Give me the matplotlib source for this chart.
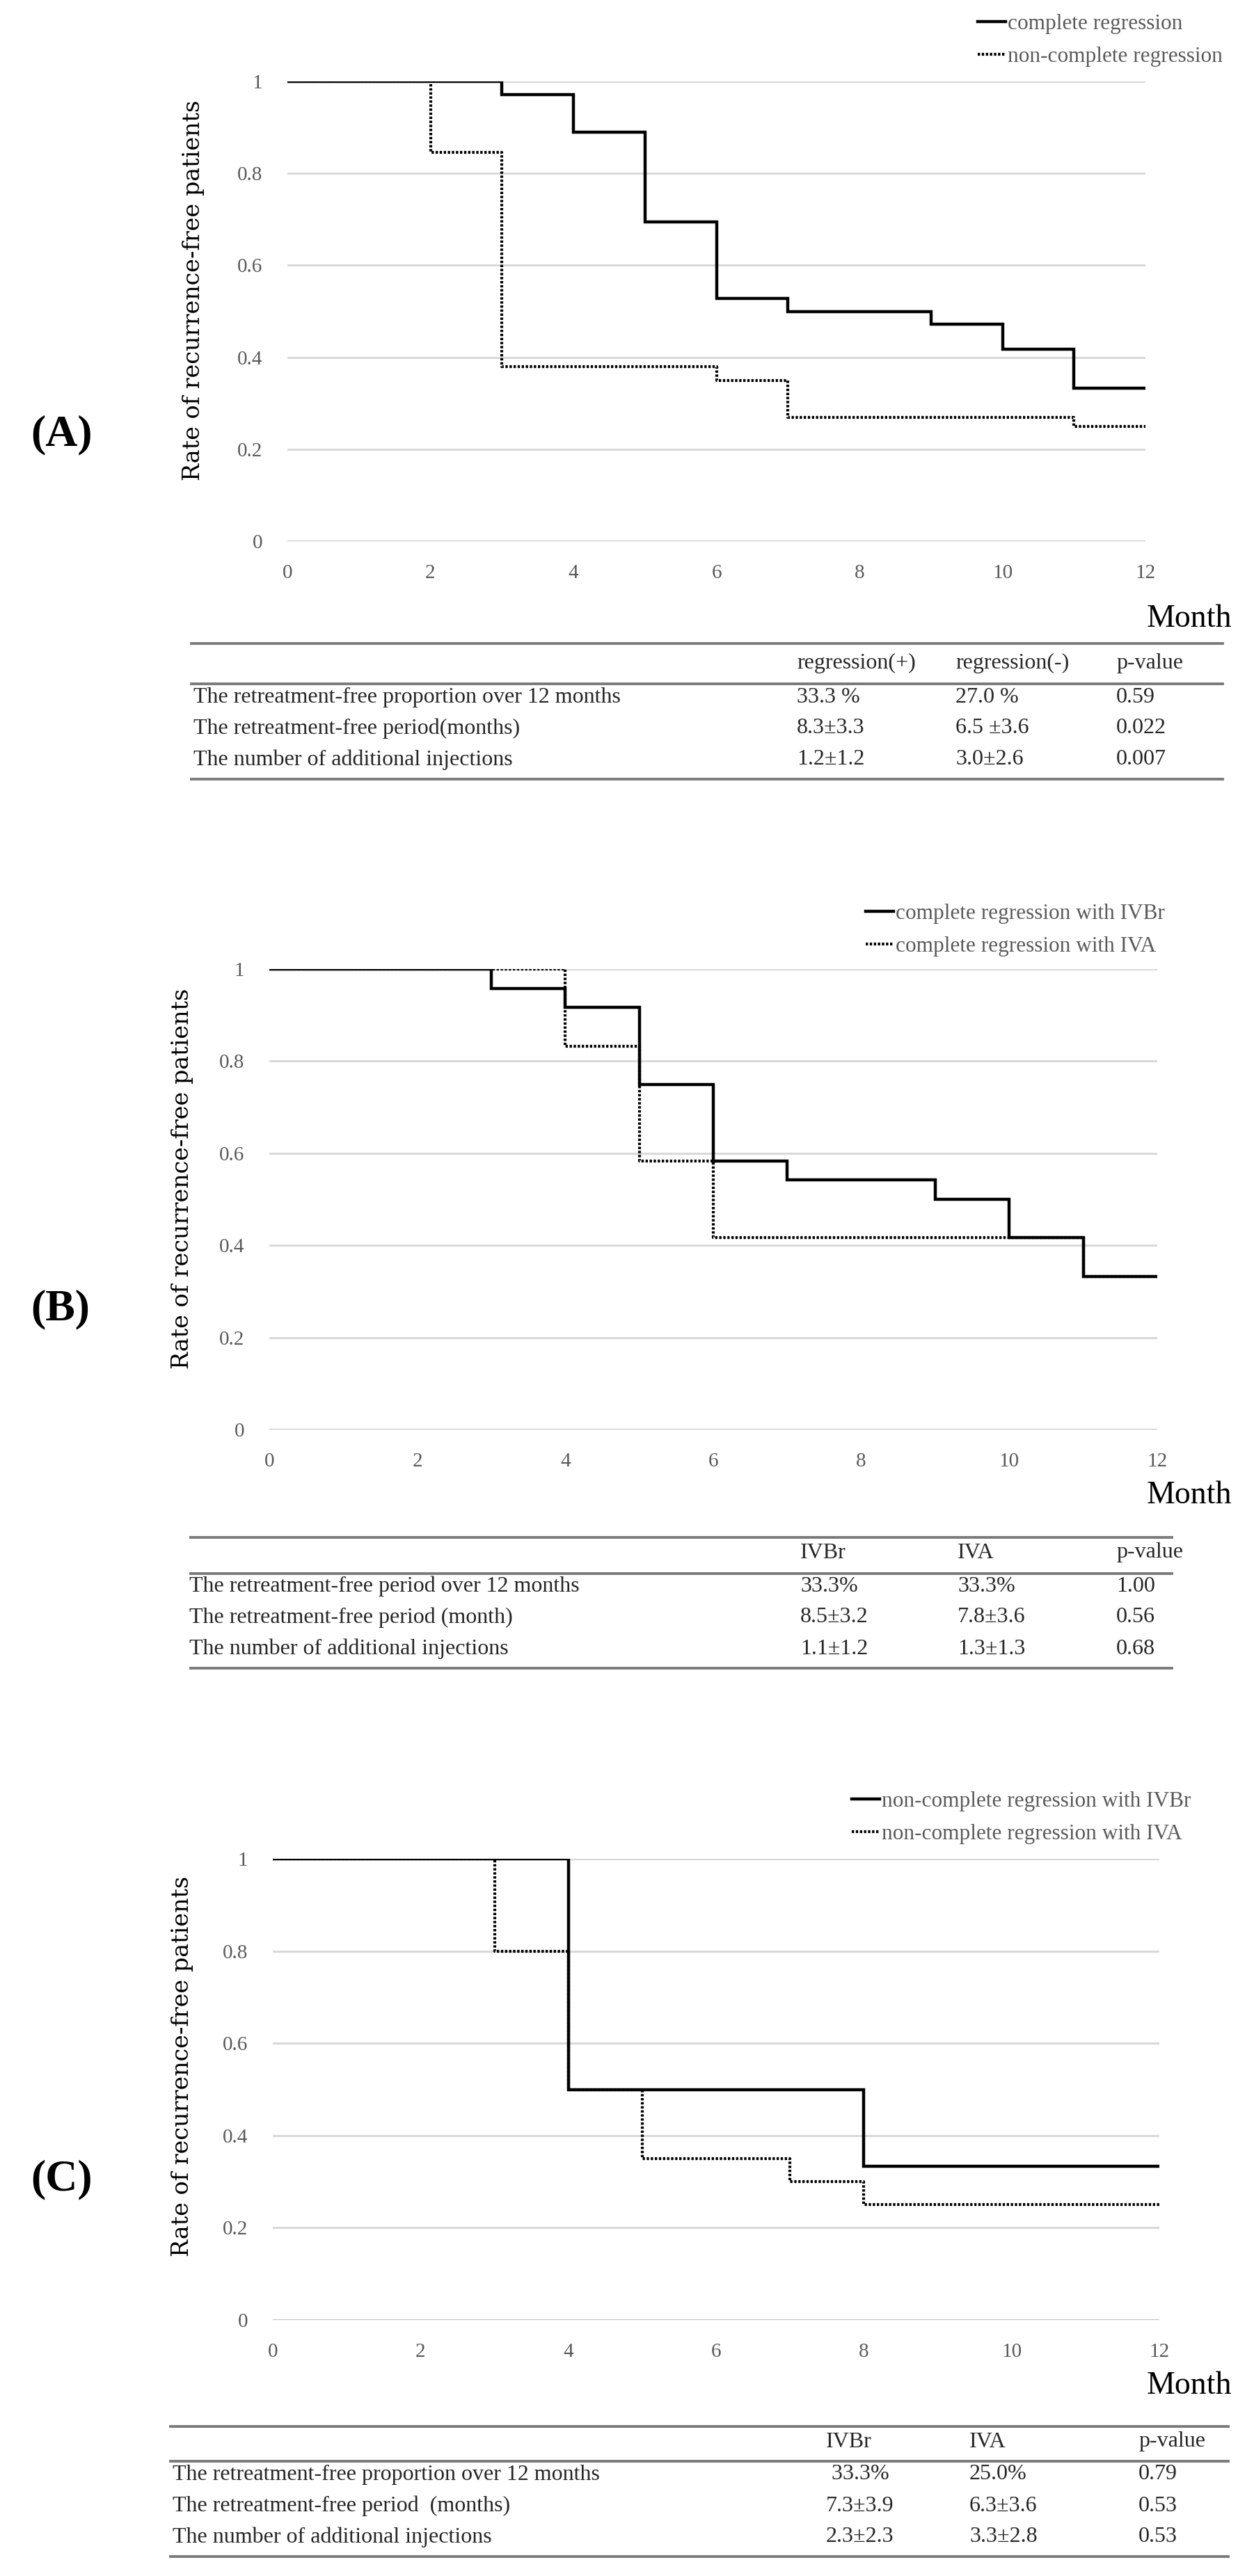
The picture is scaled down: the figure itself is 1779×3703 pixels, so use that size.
import matplotlib
matplotlib.use("Agg")
import matplotlib.pyplot as plt
from matplotlib.lines import Line2D

W, H = 1779, 3703
DPI = 100

SERIF = ["Liberation Serif", "DejaVu Serif"]
GRAY = "#595959"
GRID = "#d9d9d9"

# ---- data -------------------------------------------------------------
months = [0, 2, 4, 6, 8, 10, 12]
y_ticks = [0, 0.2, 0.4, 0.6, 0.8, 1.0]
y_tick_labels = ["0", "0.2", "0.4", "0.6", "0.8", "1"]

# (A) complete vs non-complete regression
a_solid_t = [0, 3, 4, 5, 6, 7, 9, 10, 11, 12]
a_solid_s = [1.0, 0.972, 0.889, 0.694, 0.528, 0.5, 0.472, 0.417, 0.333, 0.333]
a_dot_t = [0, 2, 3, 6, 7, 11, 12]
a_dot_s = [1.0, 0.846, 0.38, 0.35, 0.27, 0.25, 0.25]
a_labels = ["complete regression", "non-complete regression"]

# (B) complete regression, IVBr vs IVA
b_solid_t = [0, 3, 4, 5, 6, 7, 9, 10, 11, 12]
b_solid_s = [1.0, 0.958, 0.917, 0.75, 0.583, 0.542, 0.5, 0.417, 0.333, 0.333]
b_dot_t = [0, 4, 5, 6, 11, 12]
b_dot_s = [1.0, 0.833, 0.583, 0.417, 0.333, 0.333]
b_labels = ["complete regression with IVBr", "complete regression with IVA"]

# (C) non-complete regression, IVBr vs IVA
c_solid_t = [0, 4, 8, 12]
c_solid_s = [1.0, 0.5, 0.333, 0.333]
c_dot_t = [0, 3, 4, 5, 7, 8, 12]
c_dot_s = [1.0, 0.8, 0.5, 0.35, 0.3, 0.25, 0.25]
c_labels = ["non-complete regression with IVBr", "non-complete regression with IVA"]

# tables
a_head = ["", "regression(+)", "regression(-)", "p-value"]
a_rows = [
    ["The retreatment-free proportion over 12 months", "33.3 %", "27.0 %", "0.59"],
    ["The retreatment-free period(months)", "8.3\u00b13.3", "6.5 \u00b13.6", "0.022"],
    ["The number of additional injections", "1.2\u00b11.2", "3.0\u00b12.6", "0.007"],
]
b_head = ["", "IVBr", "IVA", "p-value"]
b_rows = [
    ["The retreatment-free period over 12 months", "33.3%", "33.3%", "1.00"],
    ["The retreatment-free period (month)", "8.5\u00b13.2", "7.8\u00b13.6", "0.56"],
    ["The number of additional injections", "1.1\u00b11.2", "1.3\u00b11.3", "0.68"],
]
c_head = ["", "IVBr", "IVA", "p-value"]
c_rows = [
    ["The retreatment-free proportion over 12 months", " 33.3%", "25.0%", "0.79"],
    ["The retreatment-free period\u2002(months)", "7.3\u00b13.9", "6.3\u00b13.6", "0.53"],
    ["The number of additional injections", "2.3\u00b12.3", "3.3\u00b12.8", "0.53"],
]

# ---- layout (pixel positions) ----------------------------------------
PANELS = [
    dict(tag="(A)", tag_y=625, ax=(413, 117, 1646, 778), ylab=(278, 417),
         leg=(1396, 33), month_y=890,
         table=dict(x0=275, x1=1757, top=925, head=953, sep=983,
                    rows=(1002, 1047, 1092), bottom=1120,
                    cols=(278, 1145, 1373, 1604)),
         solid=(a_solid_t, a_solid_s), dot=(a_dot_t, a_dot_s),
         labels=a_labels, head=a_head, body=a_rows),
    dict(tag="(B)", tag_y=1882, ax=(387, 1393, 1663, 2055), ylab=(262, 1694),
         leg=(1235, 1312), month_y=2150,
         table=dict(x0=274, x1=1684, top=2210, head=2232, sep=2262,
                    rows=(2280, 2325, 2370), bottom=2398,
                    cols=(272, 1150, 1376, 1604)),
         solid=(b_solid_t, b_solid_s), dot=(b_dot_t, b_dot_s),
         labels=b_labels, head=b_head, body=b_rows),
    dict(tag="(C)", tag_y=3133, ax=(392, 2672, 1666, 3335), ylab=(262, 2970),
         leg=(1215, 2588), month_y=3430,
         table=dict(x0=245, x1=1765, top=3488, head=3510, sep=3538,
                    rows=(3557, 3602, 3647), bottom=3675,
                    cols=(248, 1187, 1393, 1636)),
         solid=(c_solid_t, c_solid_s), dot=(c_dot_t, c_dot_s),
         labels=c_labels, head=c_head, body=c_rows),
]


def fx(x):
    return x / W


def fy(y):
    return 1 - y / H


def hline(fig, x0, x1, y, color="#7a7a7a", lw=2.8):
    fig.add_artist(Line2D([fx(x0), fx(x1)], [fy(y), fy(y)],
                          transform=fig.transFigure, color=color, lw=lw))


fig = plt.figure(figsize=(W / DPI, H / DPI), dpi=DPI, facecolor="white")

for p in PANELS:
    l, t, r, b = p["ax"]
    ax = fig.add_axes([fx(l), fy(b), (r - l) / W, (b - t) / H])
    ax.set_xlim(0, 12)
    ax.set_ylim(0, 1)
    for s in ax.spines.values():
        s.set_visible(False)
    for v in y_ticks:
        ax.axhline(v, color="#bfbfbf" if v == 0 else GRID, lw=2.2, zorder=1)
    ax.set_xticks(months)
    ax.set_xticklabels([str(m) for m in months])
    ax.set_yticks(y_ticks)
    ax.set_yticklabels(y_tick_labels)
    ax.tick_params(axis="both", length=0, labelsize=21, labelcolor=GRAY)
    ax.tick_params(axis="x", pad=24)
    ax.tick_params(axis="y", pad=26)
    for lab in ax.get_xticklabels() + ax.get_yticklabels():
        lab.set_family(SERIF)

    h1, = ax.step(*p["solid"], where="post", color="black", lw=3.2,
                  solid_joinstyle="miter", zorder=3)
    h2, = ax.step(*p["dot"], where="post", color="black", lw=3.0,
                  linestyle=(0, (0.8, 0.6)), zorder=2)

    leg = ax.legend([h1, h2], p["labels"], loc="center left",
                    bbox_to_anchor=(fx(p["leg"][0]) - 0.004, fy(p["leg"][1] + 25)),
                    bbox_transform=fig.transFigure, frameon=False,
                    handlelength=1.3, handletextpad=0.1, labelspacing=0.6,
                    borderpad=0, prop=dict(family=SERIF, size=22.5))
    for txt in leg.get_texts():
        txt.set_color(GRAY)

    fig.text(fx(p["ylab"][0]), fy(p["ylab"][1]), "Rate of recurrence-free patients",
             rotation=90, ha="center", va="center", fontsize=24,
             family=["DejaVu Serif"], color="black")
    fig.text(fx(1648), fy(p["month_y"]), "Month", ha="left", va="center",
             fontsize=33, family=SERIF, color="black")
    fig.text(fx(44), fy(p["tag_y"]), p["tag"], ha="left", va="center",
             fontsize=46, fontweight="bold", family=SERIF, color="black")

    tb = p["table"]
    hline(fig, tb["x0"], tb["x1"], tb["top"])
    hline(fig, tb["x0"], tb["x1"], tb["sep"])
    hline(fig, tb["x0"], tb["x1"], tb["bottom"])
    for cx, txt in zip(tb["cols"], p["head"]):
        fig.text(fx(cx), fy(tb["head"]), txt, ha="left", va="center",
                 fontsize=23, family=SERIF, color="#262626")
    for ry, row in zip(tb["rows"], p["body"]):
        for cx, txt in zip(tb["cols"], row):
            fig.text(fx(cx), fy(ry), txt, ha="left", va="center",
                     fontsize=23, family=SERIF, color="#262626")

fig.savefig("out.png", dpi=DPI, facecolor="white")
